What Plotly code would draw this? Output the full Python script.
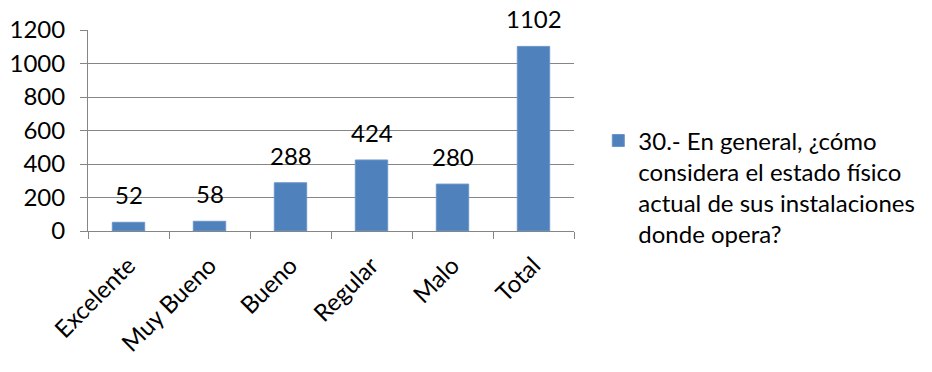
import plotly.graph_objects as go

categories = ["Excelente", "Muy Bueno", "Bueno", "Regular", "Malo", "Total"]
values = [52, 58, 288, 424, 280, 1102]
series_name = "30.- En general, ¿cómo<br>considera el estado físico<br>actual de sus instalaciones<br>donde opera?"
y_ticks = [0, 200, 400, 600, 800, 1000, 1200]

font_name = "Lato, Open Sans, sans-serif"
grid_col = "#868686"
fsize = 24

fig = go.Figure()
fig.add_trace(go.Bar(
    x=categories,
    y=values,
    name=series_name,
    marker=dict(color="#4F81BD", line=dict(color="#6C95C8", width=1)),
    showlegend=True,
))

# data labels sit a bit above the bars, like Excel does
for c, v in zip(categories, values):
    fig.add_annotation(x=c, y=v, text=str(v), showarrow=False,
                       yanchor="bottom", yshift=12, borderpad=0,
                       font=dict(size=fsize, color="#000000", family=font_name))

# page body has an 8px margin, so the figure is 8px smaller than the window
fig.update_layout(
    width=924, height=364,
    margin=dict(l=80, r=349, t=22, b=141),
    paper_bgcolor="white", plot_bgcolor="white",
    font=dict(family=font_name, size=fsize, color="#000000"),
    bargap=0.6,
    legend=dict(x=1.05, y=0.56, xanchor="left", yanchor="top",
                valign="top", font=dict(size=fsize),
                itemwidth=30, tracegroupgap=0),
)
fig.update_xaxes(
    type="category", tickangle=-45, tickson="boundaries",
    ticks="outside", ticklen=7, tickcolor=grid_col,
    showline=True, linecolor=grid_col, linewidth=1,
    showgrid=False, tickfont=dict(size=fsize), automargin=False,
    ticklabelstandoff=10,
)
fig.update_yaxes(
    range=[0, 1200], tickvals=y_ticks,
    ticks="outside", ticklen=7, tickcolor=grid_col,
    showline=True, linecolor=grid_col, linewidth=1,
    showgrid=True, gridcolor=grid_col, gridwidth=1,
    zeroline=False, tickfont=dict(size=fsize), automargin=False,
    ticklabelstandoff=10,
)

fig.write_html("out.html")
